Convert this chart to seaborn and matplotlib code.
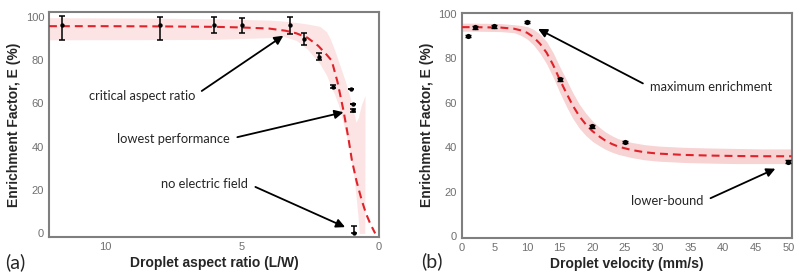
import numpy as np
import pandas as pd
import matplotlib
matplotlib.use("Agg")
import matplotlib.pyplot as plt
import seaborn as sns

sns.set_style("white")
plt.rcParams['font.family'] = ['Liberation Sans', 'DejaVu Sans']

# ---------------- Panel (a) data ----------------
a_x = [11.56, 8.0, 6.0, 5.0, 3.23, 2.74, 2.16, 1.65, 1.0, 0.94, 0.92, 0.88]
a_y = [96.3, 96.0, 96.0, 96.0, 96.0, 89.7, 81.6, 67.7, 66.5, 59.8, 56.7, 0.3]
a_err_lo = [7.0, 7.0, 3.6, 3.5, 4.0, 2.6, 1.6, 0.8, 0.0, 0.0, 0.8, 0.0]
a_err_hi = [3.8, 3.8, 3.8, 3.5, 4.0, 2.6, 1.6, 0.8, 0.0, 0.0, 0.8, 3.3]

a_fit_x = [12.05, 10, 8, 6, 5, 4, 3.4, 3.0, 2.6, 2.2, 1.9, 1.71, 1.5, 1.28, 1.1, 0.97, 0.8, 0.61, 0.45, 0.3, 0.12]
a_fit_y = [95.6, 95.6, 95.5, 95.3, 95.0, 94.5, 93.5, 92.3, 90.3, 86.5, 82.5, 79.7, 70.0, 56.7, 44.0, 33.6, 24.0, 15.2, 9.0, 4.5, 0.0]

a_band_x = [12.05, 8, 6, 4, 3.5, 3.0, 2.6, 2.14, 1.9, 1.77, 1.6, 1.47, 1.3, 1.22, 1.04, 0.92, 0.82, 0.73, 0.70, 0.61, 0.50, 0.49]
a_band_lo = [89.3, 89.4, 89.5, 90.3, 91.0, 89.0, 85.0, 78.2, 73.0, 69.0, 64.0, 59.5, 51.5, 47.5, 37.5, 28.5, 17.3, 5.3, 0.0, 0.0, 0.0, 63.0]
a_band_hi = [99.5, 99.3, 99.0, 98.4, 98.0, 97.3, 96.6, 95.5, 93.0, 90.0, 84.5, 79.7, 73.5, 70.5, 62.8, 56.7, 51.3, 53.6, 55.5, 59.8, 63.3, 63.5]

# ---------------- Panel (b) data ----------------
b_x = [1, 2, 5, 10, 15, 20, 25, 50]
b_y = [90.0, 93.9, 94.3, 96.3, 70.5, 49.4, 42.4, 33.5]
b_err = [0.6, 0.6, 0.6, 0.6, 0.6, 0.6, 0.6, 0.6]

b_fit_x = [0, 2, 4, 6, 8, 9, 10, 11, 12, 13, 14, 15, 16, 17, 18, 19, 20, 21, 22, 23, 24, 26, 28, 30, 34, 38, 42, 46, 50.5]
b_fit_y = [94.0, 94.0, 93.9, 93.8, 93.3, 92.6, 91.5, 89.5, 86.5, 82.5, 77.0, 70.5, 64.5, 58.8, 54.0, 50.3, 47.3, 45.0, 43.0, 41.5, 40.3, 38.8, 37.8, 37.2, 36.6, 36.3, 36.1, 36.0, 36.0]
b_band_lo = [92.2, 92.2, 92.1, 92.0, 91.5, 90.4, 88.7, 86.0, 82.2, 77.5, 71.5, 64.7, 58.5, 53.0, 48.6, 45.3, 42.7, 40.8, 39.1, 37.8, 36.8, 35.4, 34.4, 33.8, 33.2, 32.9, 32.7, 32.7, 32.7]
b_band_hi = [95.8, 95.8, 95.7, 95.6, 95.1, 94.8, 94.3, 93.0, 90.8, 87.5, 82.5, 76.3, 70.5, 64.6, 59.4, 55.3, 51.9, 49.2, 46.9, 45.2, 43.8, 42.2, 41.2, 40.6, 40.0, 39.7, 39.5, 39.3, 39.3]

a_xticks = [10, 5, 0]
b_xticks = [0, 5, 10, 15, 20, 25, 30, 35, 40, 45, 50]
yticks = [0, 20, 40, 60, 80, 100]

RED = '#e0232a'
SPINE = '#7f7f7f'
TICKC = '#707070'
ANN_FONT = ['Lato', 'DejaVu Sans']
ANN_SIZE = 9.3

fig = plt.figure(figsize=(8.0, 2.77), dpi=100)
axA = fig.add_axes([0.06125, 0.1433, 0.4125, 0.8123])
axB = fig.add_axes([0.5771, 0.1419, 0.4125, 0.8123])

def style(ax):
    for s in ax.spines.values():
        s.set_color(SPINE)
        s.set_linewidth(1.5)
    ax.tick_params(axis='both', direction='out', length=2, width=1, color=SPINE,
                   labelsize=8, labelcolor=TICKC, pad=1.5)
    ax.set_yticks(yticks)
    ax.set_ylabel('Enrichment Factor, E (%)', fontsize=10, fontweight='bold', labelpad=3)

# ---- Panel a ----
axA.fill_between(a_band_x, a_band_lo, a_band_hi, color='#fce4e4', lw=0, zorder=1)
dfa = pd.DataFrame({'x': a_fit_x, 'y': a_fit_y})
sns.lineplot(data=dfa, x='x', y='y', ax=axA, color=RED, lw=1.5, estimator=None, sort=False,
             zorder=3)
axA.lines[-1].set_dashes([3.8, 2.4])
axA.errorbar(a_x, a_y, yerr=[a_err_lo, a_err_hi], fmt='none', ecolor='black', elinewidth=1.1,
             capsize=2.5, capthick=1.1, zorder=4)
sns.scatterplot(x=a_x, y=a_y, ax=axA, color='black', s=10, linewidth=0, zorder=5)
axA.set_xlim(12.05, -0.02)
axA.set_ylim(-1.8, 102)
axA.set_xticks(a_xticks)
axA.set_xlabel('Droplet aspect ratio (L/W)', fontsize=10, fontweight='bold', labelpad=3)
style(axA)

arrow = dict(arrowstyle='-|>', color='black', lw=1.3, mutation_scale=13, shrinkA=3, shrinkB=0)
axA.annotate('critical aspect ratio', xy=(3.48, 91.2), xytext=(6.71, 63.6), ha='right', va='center',
             fontsize=ANN_SIZE, family=ANN_FONT, arrowprops=dict(arrow, relpos=(1, 0.5)))
axA.annotate('lowest performance', xy=(1.28, 55.9), xytext=(5.43, 43.6), ha='right', va='center',
             fontsize=ANN_SIZE, family=ANN_FONT, arrowprops=dict(arrow, relpos=(1, 0.5)))
axA.annotate('no electric field', xy=(1.22, 2.9), xytext=(4.76, 22.9), ha='right', va='center',
             fontsize=ANN_SIZE, family=ANN_FONT, arrowprops=dict(arrow, relpos=(1, 0.5)))

# ---- Panel b ----
axB.fill_between(b_fit_x, b_band_lo, b_band_hi, color='#f7d3d4', lw=0, zorder=1)
dfb = pd.DataFrame({'x': b_fit_x, 'y': b_fit_y})
sns.lineplot(data=dfb, x='x', y='y', ax=axB, color=RED, lw=1.5, estimator=None, zorder=3)
axB.lines[-1].set_dashes([3.8, 2.4])
axB.errorbar(b_x, b_y, yerr=b_err, fmt='none', ecolor='black', elinewidth=1.0,
             capsize=2.2, capthick=1.0, zorder=4)
sns.scatterplot(x=b_x, y=b_y, ax=axB, color='black', s=14, linewidth=0, zorder=5)
axB.set_xlim(0, 50.5)
axB.set_ylim(-0.6, 100.5)
axB.set_xticks(b_xticks)
axB.set_xlabel('Droplet velocity (mm/s)', fontsize=10, fontweight='bold', labelpad=3)
style(axB)

axB.annotate('maximum enrichment', xy=(11.7, 93.2), xytext=(28.8, 67.1), ha='left', va='center',
             fontsize=ANN_SIZE, family=ANN_FONT, arrowprops=dict(arrow, relpos=(0, 0.5)))
axB.annotate('lower-bound', xy=(48.0, 30.4), xytext=(37.0, 15.7), ha='right', va='center',
             fontsize=ANN_SIZE, family=ANN_FONT, arrowprops=dict(arrow, relpos=(1, 0.5)))

fig.text(5 / 800, 1 - 262 / 277, '(a)', fontsize=14, family=ANN_FONT, ha='left', va='center')
fig.text(421 / 800, 1 - 261 / 277, '(b)', fontsize=14, family=ANN_FONT, ha='left', va='center')

fig.savefig('out.png', dpi=100)
